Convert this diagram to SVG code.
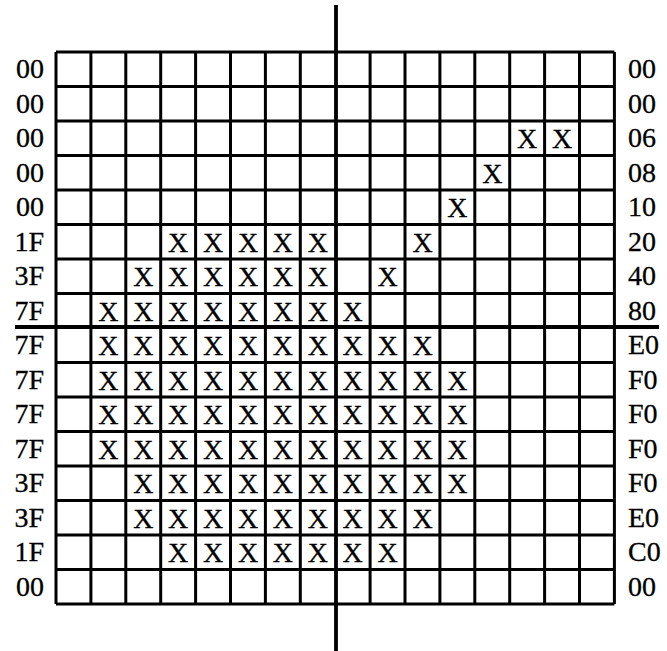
<svg xmlns="http://www.w3.org/2000/svg" width="667" height="651" viewBox="0 0 667 651">
<style>
text{font-family:"Liberation Serif","DejaVu Serif",serif;font-size:28px;fill:#000;stroke:#000;stroke-width:0.3}
.x{text-anchor:middle}
.l{text-anchor:end}
.r{text-anchor:start}
.grid{fill:none;stroke:#000;stroke-width:3}
.axis{fill:none;stroke:#000;stroke-width:3.8}
</style>
<rect width="667" height="651" fill="#fff"/>
<g id="grid" class="grid">
<path d="M56 52V604M90.9 52V604M125.8 52V604M160.7 52V604M195.6 52V604M230.5 52V604M265.4 52V604M300.3 52V604M370.1 52V604M405 52V604M439.9 52V604M474.8 52V604M509.7 52V604M544.6 52V604M579.5 52V604M614.4 52V604"/>
<path d="M56 52H614.4M56 86.5H614.4M56 121H614.4M56 155.5H614.4M56 190H614.4M56 224.5H614.4M56 259H614.4M56 293.5H614.4M56 362.5H614.4M56 397H614.4M56 431.5H614.4M56 466H614.4M56 500.5H614.4M56 535H614.4M56 569.5H614.4M56 604H614.4"/>
</g>
<g id="connectors" class="axis">
<path d="M336 5V651"/>
<path d="M15 327H659"/>
</g>
<g id="row0"><text class="l" x="44" y="78">00</text><text class="r" x="628" y="78">00</text></g>
<g id="row1"><text class="l" x="44" y="112.5">00</text><text class="r" x="628" y="112.5">00</text></g>
<g id="row2"><text class="l" x="44" y="147">00</text><text class="r" x="628" y="147">06</text>
<text class="x" x="527.2" y="148">X</text><text class="x" x="562.1" y="148">X</text></g>
<g id="row3"><text class="l" x="44" y="181.5">00</text><text class="r" x="628" y="181.5">08</text>
<text class="x" x="492.3" y="182.5">X</text></g>
<g id="row4"><text class="l" x="44" y="216">00</text><text class="r" x="628" y="216">10</text>
<text class="x" x="457.4" y="217">X</text></g>
<g id="row5"><text class="l" x="44" y="250.5">1F</text><text class="r" x="628" y="250.5">20</text>
<text class="x" x="178.2" y="251.5">X</text><text class="x" x="213.1" y="251.5">X</text><text class="x" x="248" y="251.5">X</text><text class="x" x="282.9" y="251.5">X</text><text class="x" x="317.8" y="251.5">X</text><text class="x" x="422.5" y="251.5">X</text></g>
<g id="row6"><text class="l" x="44" y="285">3F</text><text class="r" x="628" y="285">40</text>
<text class="x" x="143.3" y="286">X</text><text class="x" x="178.2" y="286">X</text><text class="x" x="213.1" y="286">X</text><text class="x" x="248" y="286">X</text><text class="x" x="282.9" y="286">X</text><text class="x" x="317.8" y="286">X</text><text class="x" x="387.6" y="286">X</text></g>
<g id="row7"><text class="l" x="44" y="319.5">7F</text><text class="r" x="628" y="319.5">80</text>
<text class="x" x="108.4" y="320.5">X</text><text class="x" x="143.3" y="320.5">X</text><text class="x" x="178.2" y="320.5">X</text><text class="x" x="213.1" y="320.5">X</text><text class="x" x="248" y="320.5">X</text><text class="x" x="282.9" y="320.5">X</text><text class="x" x="317.8" y="320.5">X</text><text class="x" x="352.7" y="320.5">X</text></g>
<g id="row8"><text class="l" x="44" y="354">7F</text><text class="r" x="628" y="354">E0</text>
<text class="x" x="108.4" y="355">X</text><text class="x" x="143.3" y="355">X</text><text class="x" x="178.2" y="355">X</text><text class="x" x="213.1" y="355">X</text><text class="x" x="248" y="355">X</text><text class="x" x="282.9" y="355">X</text><text class="x" x="317.8" y="355">X</text><text class="x" x="352.7" y="355">X</text><text class="x" x="387.6" y="355">X</text><text class="x" x="422.5" y="355">X</text></g>
<g id="row9"><text class="l" x="44" y="388.5">7F</text><text class="r" x="628" y="388.5">F0</text>
<text class="x" x="108.4" y="389.5">X</text><text class="x" x="143.3" y="389.5">X</text><text class="x" x="178.2" y="389.5">X</text><text class="x" x="213.1" y="389.5">X</text><text class="x" x="248" y="389.5">X</text><text class="x" x="282.9" y="389.5">X</text><text class="x" x="317.8" y="389.5">X</text><text class="x" x="352.7" y="389.5">X</text><text class="x" x="387.6" y="389.5">X</text><text class="x" x="422.5" y="389.5">X</text><text class="x" x="457.4" y="389.5">X</text></g>
<g id="row10"><text class="l" x="44" y="423">7F</text><text class="r" x="628" y="423">F0</text>
<text class="x" x="108.4" y="424">X</text><text class="x" x="143.3" y="424">X</text><text class="x" x="178.2" y="424">X</text><text class="x" x="213.1" y="424">X</text><text class="x" x="248" y="424">X</text><text class="x" x="282.9" y="424">X</text><text class="x" x="317.8" y="424">X</text><text class="x" x="352.7" y="424">X</text><text class="x" x="387.6" y="424">X</text><text class="x" x="422.5" y="424">X</text><text class="x" x="457.4" y="424">X</text></g>
<g id="row11"><text class="l" x="44" y="457.5">7F</text><text class="r" x="628" y="457.5">F0</text>
<text class="x" x="108.4" y="458.5">X</text><text class="x" x="143.3" y="458.5">X</text><text class="x" x="178.2" y="458.5">X</text><text class="x" x="213.1" y="458.5">X</text><text class="x" x="248" y="458.5">X</text><text class="x" x="282.9" y="458.5">X</text><text class="x" x="317.8" y="458.5">X</text><text class="x" x="352.7" y="458.5">X</text><text class="x" x="387.6" y="458.5">X</text><text class="x" x="422.5" y="458.5">X</text><text class="x" x="457.4" y="458.5">X</text></g>
<g id="row12"><text class="l" x="44" y="492">3F</text><text class="r" x="628" y="492">F0</text>
<text class="x" x="143.3" y="493">X</text><text class="x" x="178.2" y="493">X</text><text class="x" x="213.1" y="493">X</text><text class="x" x="248" y="493">X</text><text class="x" x="282.9" y="493">X</text><text class="x" x="317.8" y="493">X</text><text class="x" x="352.7" y="493">X</text><text class="x" x="387.6" y="493">X</text><text class="x" x="422.5" y="493">X</text><text class="x" x="457.4" y="493">X</text></g>
<g id="row13"><text class="l" x="44" y="526.5">3F</text><text class="r" x="628" y="526.5">E0</text>
<text class="x" x="143.3" y="527.5">X</text><text class="x" x="178.2" y="527.5">X</text><text class="x" x="213.1" y="527.5">X</text><text class="x" x="248" y="527.5">X</text><text class="x" x="282.9" y="527.5">X</text><text class="x" x="317.8" y="527.5">X</text><text class="x" x="352.7" y="527.5">X</text><text class="x" x="387.6" y="527.5">X</text><text class="x" x="422.5" y="527.5">X</text></g>
<g id="row14"><text class="l" x="44" y="561">1F</text><text class="r" x="628" y="561">C0</text>
<text class="x" x="178.2" y="562">X</text><text class="x" x="213.1" y="562">X</text><text class="x" x="248" y="562">X</text><text class="x" x="282.9" y="562">X</text><text class="x" x="317.8" y="562">X</text><text class="x" x="352.7" y="562">X</text><text class="x" x="387.6" y="562">X</text></g>
<g id="row15"><text class="l" x="44" y="595.5">00</text><text class="r" x="628" y="595.5">00</text></g>
</svg>
